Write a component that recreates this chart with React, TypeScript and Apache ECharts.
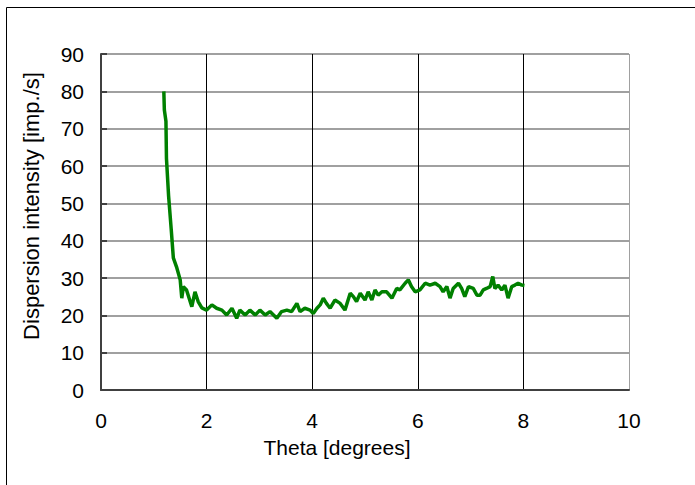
import React, { useEffect, useRef } from "react";
import * as echarts from "echarts";

const thetaValues = [
  1.19, 1.2, 1.23, 1.24, 1.28, 1.33, 1.37, 1.43, 1.5, 1.53, 1.56, 1.62, 1.72, 1.78, 1.84, 1.91,
  2.0, 2.1, 2.19, 2.29, 2.38, 2.48, 2.57, 2.63, 2.73, 2.82, 2.92, 3.01, 3.11, 3.2, 3.33, 3.42,
  3.52, 3.61, 3.71, 3.77, 3.86, 3.96, 4.02, 4.09, 4.15, 4.21, 4.27, 4.34, 4.43, 4.53, 4.62,
  4.72, 4.78, 4.84, 4.91, 5.0, 5.06, 5.13, 5.19, 5.25, 5.32, 5.41, 5.51, 5.6, 5.66, 5.76, 5.82,
  5.88, 5.95, 6.04, 6.14, 6.23, 6.33, 6.42, 6.48, 6.55, 6.61, 6.67, 6.77, 6.83, 6.89, 6.96,
  7.05, 7.12, 7.18, 7.24, 7.3, 7.37, 7.42, 7.46, 7.52, 7.59, 7.65, 7.71, 7.78, 7.84, 7.9, 7.97,
  8.02,
];

const intensityValues = [
  80, 75, 72, 62, 52, 43, 35.4, 33, 29.5, 24.6, 27.7, 26.8, 22.3, 26.3, 23.7, 22,
  21.4, 22.8, 21.9, 21.4, 20.1, 21.9, 19.2, 21.4, 20.1, 21.4, 20.1, 21.4, 20.1, 21, 19.2, 21,
  21.4, 21, 23.2, 21, 21.9, 21.4, 20.5, 21.9, 22.8, 24.6, 23.2, 21.9, 24.1, 23.2, 21.4,
  25.9, 25, 23.7, 25.9, 24.1, 26.3, 24.1, 26.8, 25.4, 26.3, 26.3, 24.6, 27.2, 26.8, 28.6, 29.5,
  27.7, 26.3, 26.8, 28.6, 28.1, 28.6, 27.7, 26.3, 27.7, 24.6, 27.2, 28.6, 27.2, 25, 27.7,
  27.2, 25.4, 25.4, 26.8, 27.2, 27.7, 30.4, 27.2, 28.1, 26.8, 28.1, 24.6, 27.7, 28.1, 28.6, 28.1,
  28,
];

const xTitle = "Theta [degrees]";
const yTitle = "Dispersion intensity [imp./s]";

export default function App() {
  const ref = useRef<HTMLDivElement>(null);
  useEffect(() => {
    if (!ref.current) return;
    const chart = echarts.init(ref.current, null, { renderer: "svg" });
    const font = "Liberation Sans, Arial, sans-serif";
    chart.setOption({
      animation: false,
      backgroundColor: "#ffffff",
      graphic: [
        {
          type: "rect",
          shape: { x: 6.5, y: 7.5, width: 720, height: 520 },
          style: { fill: "none", stroke: "#000000", lineWidth: 1 },
          silent: true,
          z: 0,
        },
        {
          type: "text",
          x: 337,
          y: 447,
          silent: true,
          style: {
            text: xTitle,
            fontFamily: font,
            fontSize: 21,
            fill: "#000",
            textAlign: "center",
            textVerticalAlign: "middle",
          },
        },
        {
          type: "text",
          x: 31,
          y: 206,
          rotation: Math.PI / 2,
          silent: true,
          style: {
            text: yTitle,
            fontFamily: font,
            fontSize: 22,
            fill: "#000",
            textAlign: "center",
            textVerticalAlign: "middle",
          },
        },
      ],
      grid: { left: 101, top: 54, right: 66, bottom: 95, containLabel: false },
      xAxis: {
        type: "value",
        min: 0,
        max: 10,
        interval: 2,
        axisLine: { show: true, onZero: false, lineStyle: { color: "#404040", width: 2 } },
        axisTick: { show: false },
        axisLabel: { fontFamily: font, fontSize: 21, color: "#000", margin: 20 },
        splitLine: {
          show: true,
          lineStyle: { color: ["#000", "#000", "#000", "#000", "#000", "#a0a0a0"], width: 1 },
        },
      },
      yAxis: {
        type: "value",
        min: 0,
        max: 90,
        interval: 10,
        axisLine: { show: true, lineStyle: { color: "#404040", width: 2 } },
        axisTick: { show: true, inside: true, length: 6, lineStyle: { color: "#404040", width: 2 } },
        axisLabel: { fontFamily: font, fontSize: 21, color: "#000", margin: 17 },
        splitLine: { show: true, lineStyle: { color: "#808080", width: 1.5 } },
      },
      series: [
        {
          type: "line",
          data: thetaValues.map((t, i) => [t, intensityValues[i]]),
          showSymbol: false,
          symbol: "none",
          lineStyle: { color: "#008000", width: 3.5 },
          z: 5,
        },
      ],
    });
    return () => chart.dispose();
  }, []);
  return (
    <div
      ref={ref}
      style={{ position: "fixed", left: 0, top: 0, width: 695, height: 485 }}
    />
  );
}
